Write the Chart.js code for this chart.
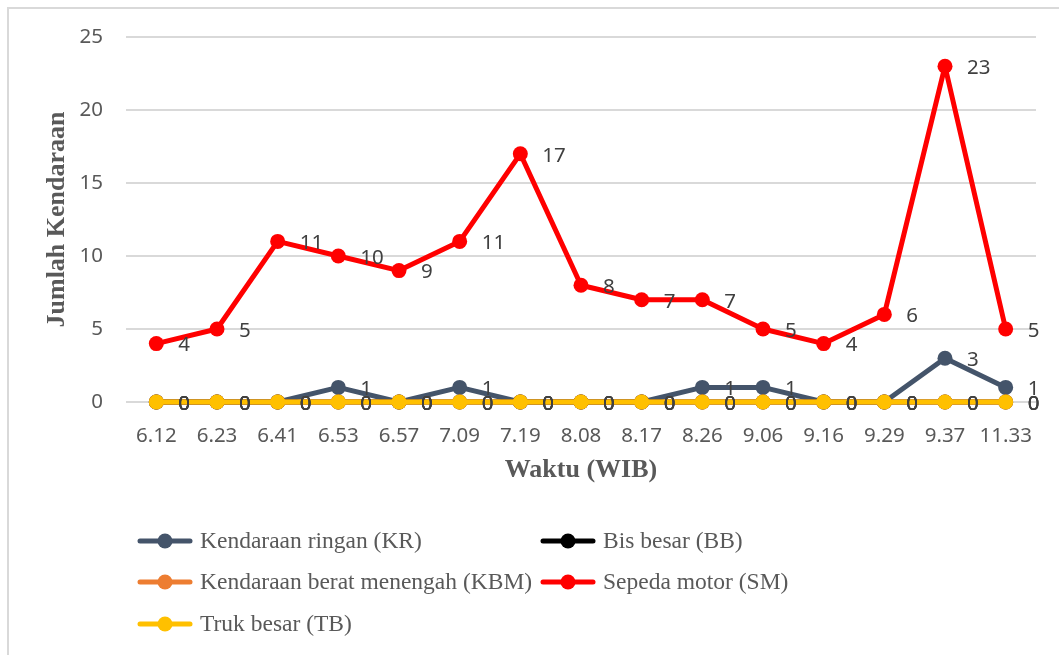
<!DOCTYPE html>
<html>
<head>
<meta charset="utf-8">
<script src="https://cdn.jsdelivr.net/npm/chart.js@4.4.0/dist/chart.umd.min.js"></script>
<style>
    html, body { margin: 0; padding: 0; background: #fff; }
    #wrap { width: 1059px; height: 655px; position: relative; }
</style>
</head>
<body>
<div id="wrap"><canvas id="trafficChart"></canvas></div>
<script>
const waktu = ['6.12', '6.23', '6.41', '6.53', '6.57', '7.09', '7.19', '8.08', '8.17', '8.26', '9.06', '9.16', '9.29', '9.37', '11.33'];

const kendaraanRingan = [0, 0, 0, 1, 0, 1, 0, 0, 0, 1, 1, 0, 0, 3, 1];
const bisBesar = [0, 0, 0, 0, 0, 0, 0, 0, 0, 0, 0, 0, 0, 0, 0];
const kendaraanBeratMenengah = [0, 0, 0, 0, 0, 0, 0, 0, 0, 0, 0, 0, 0, 0, 0];
const sepedaMotor = [4, 5, 11, 10, 9, 11, 17, 8, 7, 7, 5, 4, 6, 23, 5];
const trukBesar = [0, 0, 0, 0, 0, 0, 0, 0, 0, 0, 0, 0, 0, 0, 0];

const yTicks = [0, 5, 10, 15, 20, 25];

const seriesNames = ['Kendaraan ringan (KR)', 'Bis besar (BB)', 'Kendaraan berat menengah (KBM)', 'Sepeda motor (SM)', 'Truk besar (TB)'];
const seriesColors = ['#44546A', '#000000', '#ED7D31', '#FF0000', '#FFC000'];
const seriesValues = [kendaraanRingan, bisBesar, kendaraanBeratMenengah, sepedaMotor, trukBesar];

const tickFont = '"Noto Sans", "Liberation Sans", sans-serif';
const serifFont = '"Liberation Serif", "DejaVu Serif", serif';

const datasets = seriesValues.map((values, i) => ({
    label: seriesNames[i],
    data: values,
    borderColor: seriesColors[i],
    backgroundColor: seriesColors[i],
    borderWidth: 5,
    borderJoinStyle: 'round',
    borderCapStyle: 'round',
    pointRadius: 7.5,
    pointHoverRadius: 7.5,
    pointBorderWidth: 0,
    tension: 0,
    clip: false,
    order: seriesValues.length - i // later series drawn on top, like excel
}));

// white bg + frame border
const framePlugin = {
    id: 'frame',
    beforeDraw(chart) {
        const ctx = chart.ctx;
        ctx.save();
        ctx.fillStyle = '#ffffff';
        ctx.fillRect(0, 0, chart.width, chart.height);
        ctx.strokeStyle = '#d9d9d9';
        ctx.lineWidth = 2;
        ctx.beginPath();
        ctx.moveTo(8, chart.height + 2);
        ctx.lineTo(8, 8);
        ctx.lineTo(chart.width + 2, 8);
        ctx.stroke();
        ctx.restore();
    }
};

// value labels to the right of every point
const valueLabels = {
    id: 'valueLabels',
    afterDatasetsDraw(chart) {
        const ctx = chart.ctx;
        ctx.save();
        ctx.font = '20.5px ' + tickFont;
        ctx.fillStyle = '#404040';
        ctx.textAlign = 'left';
        ctx.textBaseline = 'middle';
        chart.data.datasets.forEach((ds, i) => {
            const meta = chart.getDatasetMeta(i);
            meta.data.forEach((pt, j) => {
                ctx.fillText(String(ds.data[j]), pt.x + 22, pt.y + 2);
            });
        });
        ctx.restore();
    }
};

// axis titles + two column legend
const extras = {
    id: 'extras',
    afterDraw(chart) {
        const ctx = chart.ctx;
        const area = chart.chartArea;
        ctx.save();
        ctx.fillStyle = '#595959';
        ctx.font = 'bold 26px ' + serifFont;
        ctx.textAlign = 'center';
        ctx.textBaseline = 'middle';
        ctx.fillText('Waktu (WIB)', (area.left + area.right) / 2, 470);

        ctx.save();
        ctx.translate(57, (area.top + area.bottom) / 2);
        ctx.rotate(-Math.PI / 2);
        ctx.fillText('Jumlah Kendaraan', 0, 0);
        ctx.restore();

        const cols = [140, 543];
        const rows = [541, 582, 624];
        ctx.font = '23.5px ' + serifFont;
        ctx.textAlign = 'left';
        seriesNames.forEach((name, i) => {
            const x0 = cols[i % 2];
            const y0 = rows[Math.floor(i / 2)];
            ctx.strokeStyle = seriesColors[i];
            ctx.lineWidth = 5;
            ctx.lineCap = 'round';
            ctx.beginPath();
            ctx.moveTo(x0, y0);
            ctx.lineTo(x0 + 50, y0);
            ctx.stroke();
            ctx.fillStyle = seriesColors[i];
            ctx.beginPath();
            ctx.arc(x0 + 25, y0, 7.5, 0, Math.PI * 2);
            ctx.fill();
            ctx.fillStyle = '#595959';
            ctx.fillText(name, x0 + 60, y0 + 1);
        });
        ctx.restore();
    }
};

const ctx = document.getElementById('trafficChart').getContext('2d');
const trafficChart = new Chart(ctx, {
    type: 'line',
    data: {
        labels: waktu,
        datasets: datasets
    },
    options: {
        responsive: true,
        maintainAspectRatio: false,
        animation: false,
        layout: {
            padding: { top: 37, right: 23, left: 0, bottom: 0 }
        },
        scales: {
            x: {
                offset: true,
                grid: { display: false },
                border: { display: false },
                ticks: {
                    color: '#595959',
                    font: { family: tickFont, size: 20.5 },
                    padding: 14,
                    maxRotation: 0,
                    autoSkip: false
                },
                afterFit: (scale) => {
                    scale.height = 253;
                }
            },
            y: {
                min: yTicks[0],
                max: yTicks[yTicks.length - 1],
                grid: {
                    color: '#d9d9d9',
                    lineWidth: 2,
                    drawTicks: false
                },
                border: { display: false },
                ticks: {
                    stepSize: yTicks[1] - yTicks[0],
                    color: '#595959',
                    font: { family: tickFont, size: 20.5 },
                    padding: 23
                },
                afterFit: (scale) => {
                    scale.width = 126;
                }
            }
        },
        plugins: {
            legend: { display: false },
            tooltip: { enabled: false }
        }
    },
    plugins: [framePlugin, valueLabels, extras]
});
</script>
</body>
</html>
